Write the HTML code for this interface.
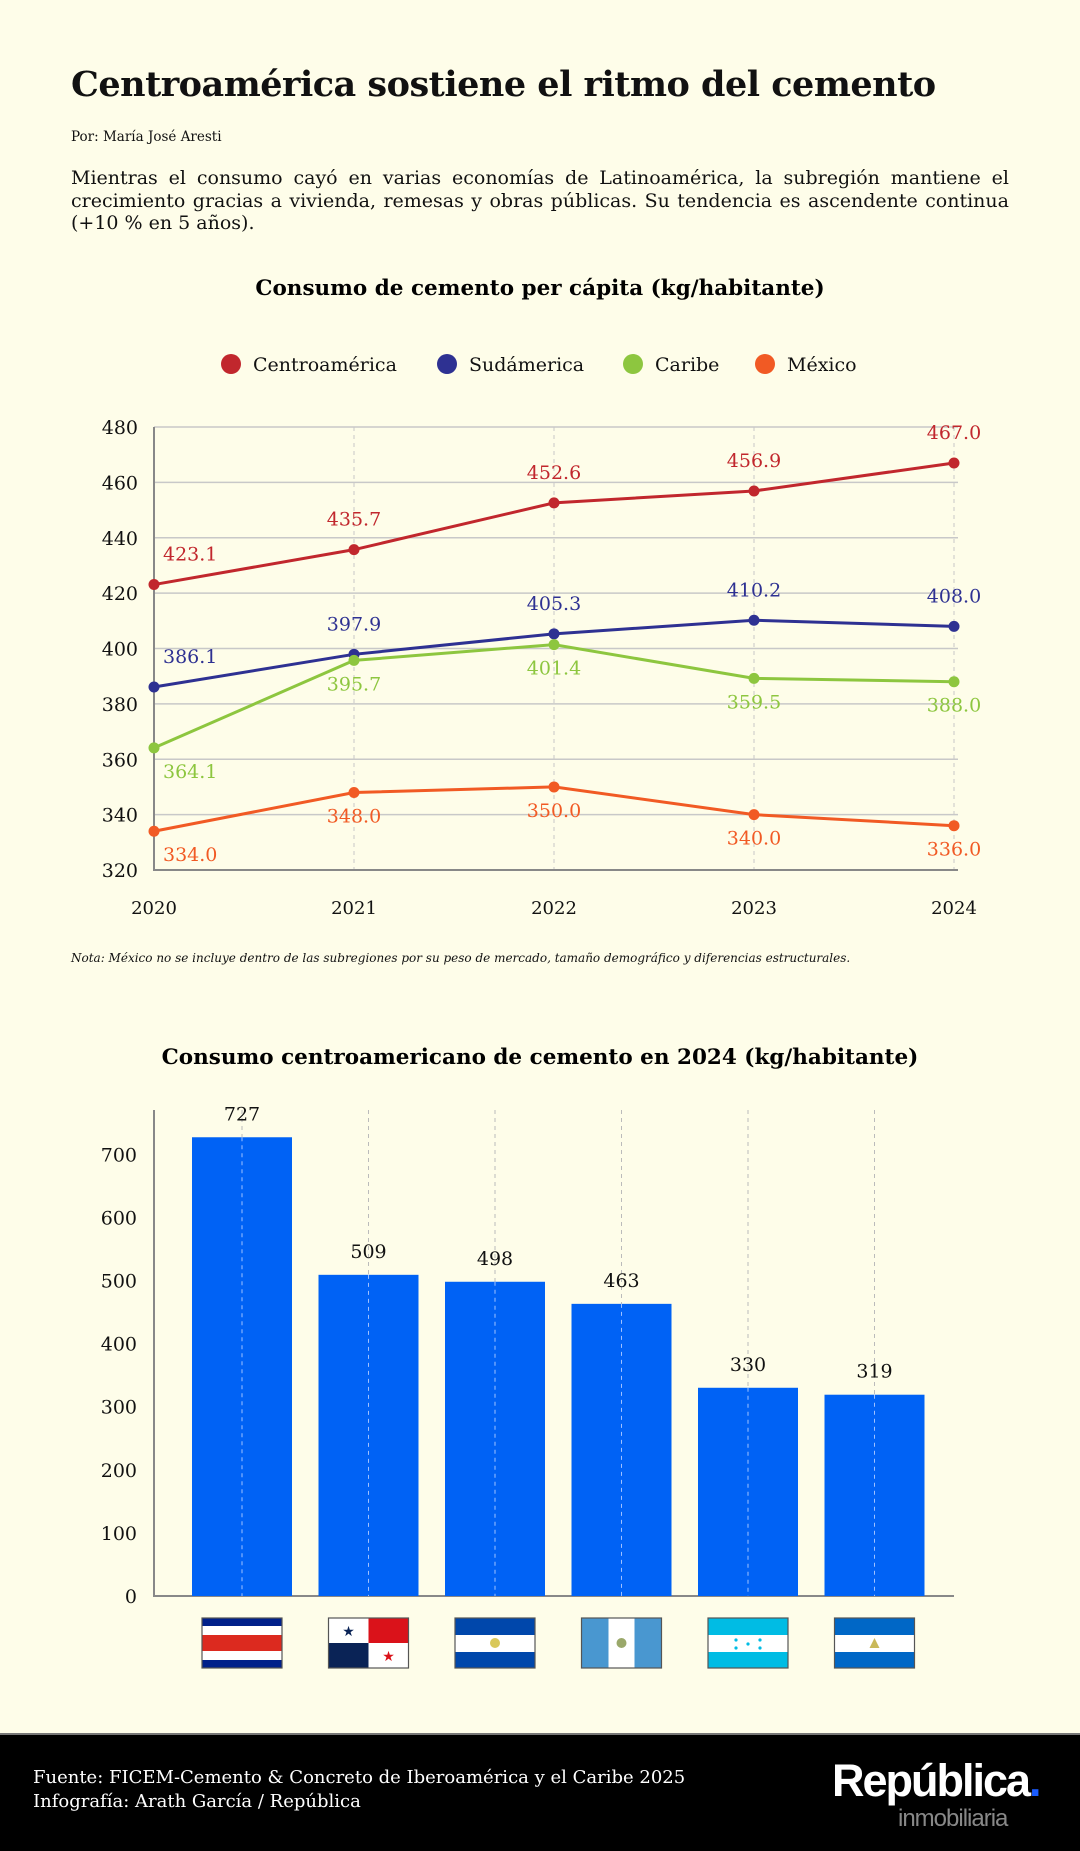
<!DOCTYPE html>
<html><head><meta charset="utf-8">
<style>
html,body{margin:0;padding:0;}
body{width:1080px;height:1851px;background:#fefde9;position:relative;overflow:hidden;font-family:"DejaVu Serif","Liberation Serif",serif;color:#111;}
.abs{position:absolute;}
#title{left:71px;top:64px;font-size:35px;font-weight:bold;white-space:nowrap;letter-spacing:-0.5px;}
#byline{left:71px;top:129px;font-size:13.5px;}
#desc{left:71px;top:167px;width:938px;font-size:19px;line-height:22.5px;text-align:justify;}
svg{position:absolute;left:0;top:0;}
#footer{left:0;top:1733px;width:1080px;height:118px;background:#000;border-top:2px solid #777;box-sizing:border-box;}
</style></head>
<body>
<div id="title" class="abs">Centroamérica sostiene el ritmo del cemento</div>
<div id="byline" class="abs">Por: María José Aresti</div>
<div id="desc" class="abs">Mientras el consumo cayó en varias economías de Latinoamérica, la subregión mantiene el crecimiento gracias a vivienda, remesas y obras públicas. Su tendencia es ascendente continua (+10 % en 5 años).</div>
<div id="footer" class="abs">
  <div class="abs" style="left:33px;top:31px;color:#fff;font-size:18px;line-height:24px;">Fuente: FICEM-Cemento &amp; Concreto de Iberoamérica y el Caribe 2025<br>Infografía: Arath García / República</div>
  <div class="abs" style="left:832px;top:20px;color:#fff;font-family:'Liberation Sans',sans-serif;font-weight:bold;font-size:45px;letter-spacing:-2px;">República<span style="color:#1a5cff">.</span></div>
  <div class="abs" style="left:898px;top:70px;color:#888;font-family:'Liberation Sans',sans-serif;font-size:24px;letter-spacing:-1px;">inmobiliaria</div>
</div>
<svg id="chart" width="1080" height="1733" xmlns="http://www.w3.org/2000/svg"></svg>
<script>
// ===== Line chart data =====
const years = ["2020","2021","2022","2023","2024"];
const centro = [423.1, 435.7, 452.6, 456.9, 467.0];
const sud = [386.1, 397.9, 405.3, 410.2, 408.0];
const caribe = [364.1, 395.7, 401.4, 389.2, 388.0];
const mexico = [334.0, 348.0, 350.0, 340.0, 336.0];
const centroLabels = ["423.1","435.7","452.6","456.9","467.0"];
const sudLabels = ["386.1","397.9","405.3","410.2","408.0"];
const caribeLabels = ["364.1","395.7","401.4","359.5","388.0"];
const mexicoLabels = ["334.0","348.0","350.0","340.0","336.0"];
const lineTicks = [320,340,360,380,400,420,440,460,480];
// ===== Bar chart data =====
const countries = ["Costa Rica","Panamá","El Salvador","Guatemala","Honduras","Nicaragua"];
const barValues = [727, 509, 498, 463, 330, 319];
const barTicks = [0,100,200,300,400,500,600,700];

const FONT='DejaVu Serif, Liberation Serif, serif';
const svg = document.getElementById('chart');
const NS = 'http://www.w3.org/2000/svg';
function mk(tag, attrs, parent){const e=document.createElementNS(NS,tag);for(const k in attrs)e.setAttribute(k,attrs[k]);(parent||svg).appendChild(e);return e;}
function txt(s, attrs, parent){const e=mk('text',attrs,parent);e.textContent=s;return e;}

let t = txt('Consumo de cemento per cápita (kg/habitante)',{x:540,y:295,'text-anchor':'middle','font-size':21.5,'font-weight':'bold','font-family':FONT});


const legendItems=[["Centroamérica","#c1272d",231],["Sudámerica","#2e3192",447],["Caribe","#8dc63f",633],["México","#f15a24",765]];
legendItems.forEach(li=>{
  const g=mk('g',{});
  
  
  mk('circle',{cx:li[2],cy:364,r:10,fill:li[1]},g);
  txt(li[0],{x:li[2]+22,y:371,'font-size':19,'font-family':FONT,fill:'#111'},g);
});

const lx0=154, lxStep=200, ly0=870, lyTop=427, lmin=320, lmax=480;
const xL = i => lx0 + i*lxStep;
const yL = v => ly0 - (v-lmin)/(lmax-lmin)*(ly0-lyTop);
const lineGrid=mk('g',{});


lineTicks.forEach(v=>{
  mk('line',{x1:lx0,x2:958,y1:yL(v),y2:yL(v),stroke:'#c8c8c8','stroke-width':1.5},lineGrid);
  const tl=txt(String(v),{x:138,y:yL(v)+7,'text-anchor':'end','font-size':19,'font-family':FONT,fill:'#111'},lineGrid);
  
  
});
years.forEach((y,i)=>{
  if(i>0) mk('line',{x1:xL(i),x2:xL(i),y1:lyTop,y2:ly0,stroke:'#c8c8c8','stroke-width':1,'stroke-dasharray':'4,4'},lineGrid);
  const tl=txt(y,{x:xL(i),y:914,'text-anchor':'middle','font-size':18,'font-family':FONT,fill:'#111'},lineGrid);
  
  
});
mk('polyline',{points:`${lx0},${lyTop} ${lx0},${ly0} 958,${ly0}`,fill:'none',stroke:'#888','stroke-width':2},lineGrid);

function series(vals, labels, color, name, pos){
  const g=mk('g',{});
  
  
  mk('polyline',{points:vals.map((v,i)=>xL(i)+','+yL(v)).join(' '),fill:'none',stroke:color,'stroke-width':3},g);
  vals.forEach((v,i)=>{
    const c=mk('circle',{cx:xL(i),cy:yL(v),r:5.5,fill:color},g);
    
    
    const above = pos==='above';
    const lx = i===0 ? xL(i)+9 : xL(i);
    const ly = above ? yL(v)-24 : yL(v)+30;
    const l=txt(labels[i],{x:lx,y:ly,'text-anchor':i===0?'start':'middle','font-size':19,'font-family':FONT,fill:color},g);
    
    
  });
}
series(centro, centroLabels,'#c1272d','centroamerica-line','above');
series(sud, sudLabels,'#2e3192','sudamerica-line','above');
series(caribe, caribeLabels,'#8dc63f','caribe-line','below');
series(mexico, mexicoLabels,'#f15a24','mexico-line','below');

t=txt('Nota: México no se incluye dentro de las subregiones por su peso de mercado, tamaño demográfico y diferencias estructurales.',{x:71,y:962,'font-size':12,'font-style':'italic','font-family':FONT,fill:'#111'});



t=txt('Consumo centroamericano de cemento en 2024 (kg/habitante)',{x:540,y:1064,'text-anchor':'middle','font-size':21.5,'font-weight':'bold','font-family':FONT});


const bx0=154, bx1=954, by0=1596, byPer100=63.1, bTop=1110;
const yB = v => by0 - v/100*byPer100;
const barPitch=126.5, barW=100, firstCenter=242;
const xB = i => firstCenter + i*barPitch;
const bg=mk('g',{});


barTicks.forEach(v=>{
  const tl=txt(String(v),{x:137,y:yB(v)+7,'text-anchor':'end','font-size':19,'font-family':FONT,fill:'#111'},bg);
  
  
});
countries.forEach((c,i)=>{
  mk('line',{x1:xB(i),x2:xB(i),y1:bTop,y2:by0,stroke:'#bbb','stroke-width':1,'stroke-dasharray':'4,4'},bg);
});
const barsG=mk('g',{});


barValues.forEach((v,i)=>{
  const r=mk('rect',{x:xB(i)-barW/2,y:yB(v),width:barW,height:by0-yB(v),fill:'#0062f5'},barsG);
  
  
  mk('line',{x1:xB(i),x2:xB(i),y1:yB(v),y2:by0,stroke:'#9fc1ff','stroke-width':1,'stroke-dasharray':'4,4'},barsG);
  const l=txt(String(v),{x:xB(i),y:yB(v)-17,'text-anchor':'middle','font-size':19,'font-family':FONT,fill:'#111'},barsG);
  
  
});
mk('polyline',{points:`${bx0},${bTop} ${bx0},${by0} ${bx1},${by0}`,fill:'none',stroke:'#888','stroke-width':2},bg);

function flag(i){
  const g=mk('g',{transform:`translate(${xB(i)-40},1618)`});
  
  
  const W=80,H=50;
  if(i===0){
    [['#00208a',0,8],['#fff',8,9],['#dc2a1f',17,16],['#fff',33,9],['#00208a',42,8]].forEach(s=>mk('rect',{x:0,y:s[1],width:W,height:s[2],fill:s[0]},g));
  } else if(i===1){
    mk('rect',{x:0,y:0,width:40,height:25,fill:'#fff'},g);
    mk('rect',{x:40,y:0,width:40,height:25,fill:'#da121a'},g);
    mk('rect',{x:0,y:25,width:40,height:25,fill:'#0a2356'},g);
    mk('rect',{x:40,y:25,width:40,height:25,fill:'#fff'},g);
    txt('★',{x:20,y:18,'text-anchor':'middle','font-size':14,fill:'#0a2356','font-family':'DejaVu Sans, sans-serif'},g);
    txt('★',{x:60,y:43,'text-anchor':'middle','font-size':14,fill:'#da121a','font-family':'DejaVu Sans, sans-serif'},g);
  } else if(i===2){
    mk('rect',{x:0,y:0,width:W,height:17,fill:'#0047ab'},g);
    mk('rect',{x:0,y:17,width:W,height:17,fill:'#fff'},g);
    mk('rect',{x:0,y:34,width:W,height:16,fill:'#0047ab'},g);
    mk('circle',{cx:40,cy:25,r:5,fill:'#d9c85a'},g);
  } else if(i===3){
    mk('rect',{x:0,y:0,width:27,height:H,fill:'#4997d0'},g);
    mk('rect',{x:27,y:0,width:26,height:H,fill:'#fff'},g);
    mk('rect',{x:53,y:0,width:27,height:H,fill:'#4997d0'},g);
    mk('circle',{cx:40,cy:25,r:5,fill:'#9aa86a'},g);
  } else if(i===4){
    mk('rect',{x:0,y:0,width:W,height:17,fill:'#00bce4'},g);
    mk('rect',{x:0,y:17,width:W,height:17,fill:'#fff'},g);
    mk('rect',{x:0,y:34,width:W,height:16,fill:'#00bce4'},g);
    [[28,22],[52,22],[40,26],[28,30],[52,30]].forEach(p=>mk('circle',{cx:p[0],cy:p[1],r:1.6,fill:'#00bce4'},g));
  } else {
    mk('rect',{x:0,y:0,width:W,height:17,fill:'#0067c6'},g);
    mk('rect',{x:0,y:17,width:W,height:17,fill:'#fff'},g);
    mk('rect',{x:0,y:34,width:W,height:16,fill:'#0067c6'},g);
    mk('polygon',{points:'40,20 45,30 35,30',fill:'#c9b95a'},g);
  }
  mk('rect',{x:0,y:0,width:W,height:H,fill:'none',stroke:'#555','stroke-width':1.2},g);
}
countries.forEach((c,i)=>flag(i));
</script>
</body></html>
